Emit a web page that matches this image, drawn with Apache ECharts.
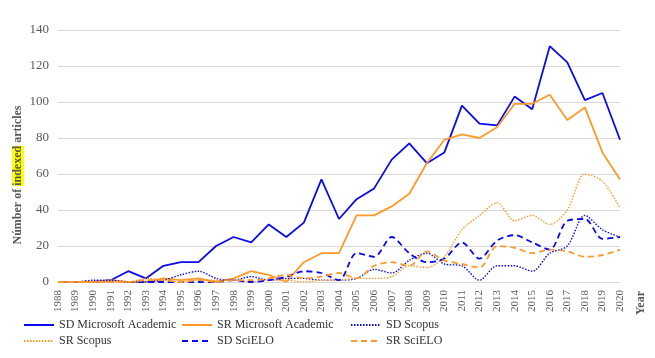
<!DOCTYPE html>
<html>
<head>
<meta charset="utf-8">
<script src="https://cdn.jsdelivr.net/npm/echarts@6/dist/echarts.min.js"></script>
<style>
html,body{margin:0;padding:0;background:#fff;}
#chart{width:655px;height:358px;}
</style>
</head>
<body>
<div id="chart"></div>
<script>
const years = ['1988','1989','1990','1991','1992','1993','1994','1995','1996','1997','1998','1999','2000','2001','2002','2003','2004','2005','2006','2007','2008','2009','2010','2011','2012','2013','2014','2015','2016','2017','2018','2019','2020'];
const yTicks = [0, 20, 40, 60, 80, 100, 120, 140];

const sdMicrosoft = [0,0,0,1,6,2,9,11,11,20,25,22,32,25,33,57,35,46,52,68,77,66,72,98,88,87,103,96,131,122,101,105,79];
const srMicrosoft = [0,0,0,1,0,0,2,1,2,0,2,6,4,0,11,16,16,37,37,42,49,66,79,82,80,86,99,99,104,90,97,72,57];
const sdScopus    = [0,0,1,1,0,0,1,4,6,2,1,3,1,2,2,1,1,2,7,5,12,16,10,9,1,9,9,6,16,20,37,29,25];
const srScopus    = [0,0,0,0,0,2,1,0,1,1,1,0,1,1,0,1,1,2,2,3,9,8,14,29,37,44,34,37,32,40,60,56,41];
const sdScielo    = [0,0,0,0,0,0,0,0,0,0,1,0,1,3,6,5,1,16,14,25,16,11,13,22,13,23,26,22,18,34,35,24,25];
const srScielo    = [0,0,0,0,0,1,1,0,1,0,1,1,2,4,2,3,5,2,9,11,9,17,12,10,8,20,19,16,18,17,14,15,18];

const BLUE = '#0a0aee';
const ORANGE = '#ff9a2a';
const SERIF = '"Liberation Serif", "Times New Roman", serif';

function mk(name, data, color, type, width, smooth) {
  return {
    name: name, type: 'line', data: data, symbol: 'none', smooth: smooth,
    lineStyle: { color: color, width: width, type: type },
    itemStyle: { color: color },
    emphasis: { disabled: true }
  };
}

const series = [
  mk('SD Microsoft Academic', sdMicrosoft, BLUE, 'solid', 1.8, false),
  mk('SR Microsoft Academic', srMicrosoft, ORANGE, 'solid', 1.8, false),
  mk('SD Scopus', sdScopus, BLUE, [1.5, 1.5], 1.4, 0.3),
  mk('SR Scopus', srScopus, ORANGE, [1.5, 1.5], 1.4, 0.3),
  mk('SD SciELO', sdScielo, BLUE, [6, 4], 1.8, 0.3),
  mk('SR SciELO', srScielo, ORANGE, [6, 4], 1.8, 0.3)
];

function legendCol(left, names) {
  return {
    orient: 'vertical', left: left, top: 319, itemGap: 4, padding: 0,
    itemWidth: 30, itemHeight: 14,
    data: names,
    itemStyle: { opacity: 0 },
    textStyle: { fontFamily: SERIF, fontSize: 12, color: '#333' },
    selectedMode: false
  };
}

const chart = echarts.init(document.getElementById('chart'));
chart.setOption({
  animation: false,
  grid: { left: 58, right: 35, top: 30, bottom: 76, containLabel: false },
  xAxis: {
    type: 'category', data: years, boundaryGap: false,
    axisLine: { lineStyle: { color: '#d9d9d9' } },
    axisTick: { show: false },
    axisLabel: { rotate: 90, interval: 0, margin: 8, fontFamily: SERIF, fontSize: 11, color: '#595959' }
  },
  yAxis: {
    type: 'value', min: yTicks[0], max: yTicks[yTicks.length - 1], interval: 20,
    axisLine: { show: false }, axisTick: { show: false },
    splitLine: { lineStyle: { color: '#d9d9d9' } },
    axisLabel: { margin: 9, fontFamily: SERIF, fontSize: 13, color: '#595959' }
  },
  legend: [
    legendCol(23, ['SD Microsoft Academic', 'SR Scopus']),
    legendCol(181, ['SR Microsoft Academic', 'SD SciELO']),
    legendCol(350, ['SD Scopus', 'SR SciELO'])
  ],
  graphic: [
    {
      type: 'text', x: 18, y: 175, rotation: Math.PI / 2,
      style: {
        text: '{a|Númber of }{b|indexed}{a| articles}',
        textAlign: 'center', textVerticalAlign: 'middle',
        rich: {
          a: { fontFamily: SERIF, fontSize: 12, fontWeight: 'bold', fill: '#595959', color: '#595959' },
          b: { fontFamily: SERIF, fontSize: 12, fontWeight: 'bold', fill: '#595959', color: '#595959', backgroundColor: '#ffff00' }
        }
      }
    },
    {
      type: 'text', x: 641, y: 303, rotation: Math.PI / 2,
      style: {
        text: 'Year', textAlign: 'center', textVerticalAlign: 'middle',
        font: 'bold 12px ' + SERIF, fill: '#595959'
      }
    }
  ],
  series: series
});
</script>
</body>
</html>
